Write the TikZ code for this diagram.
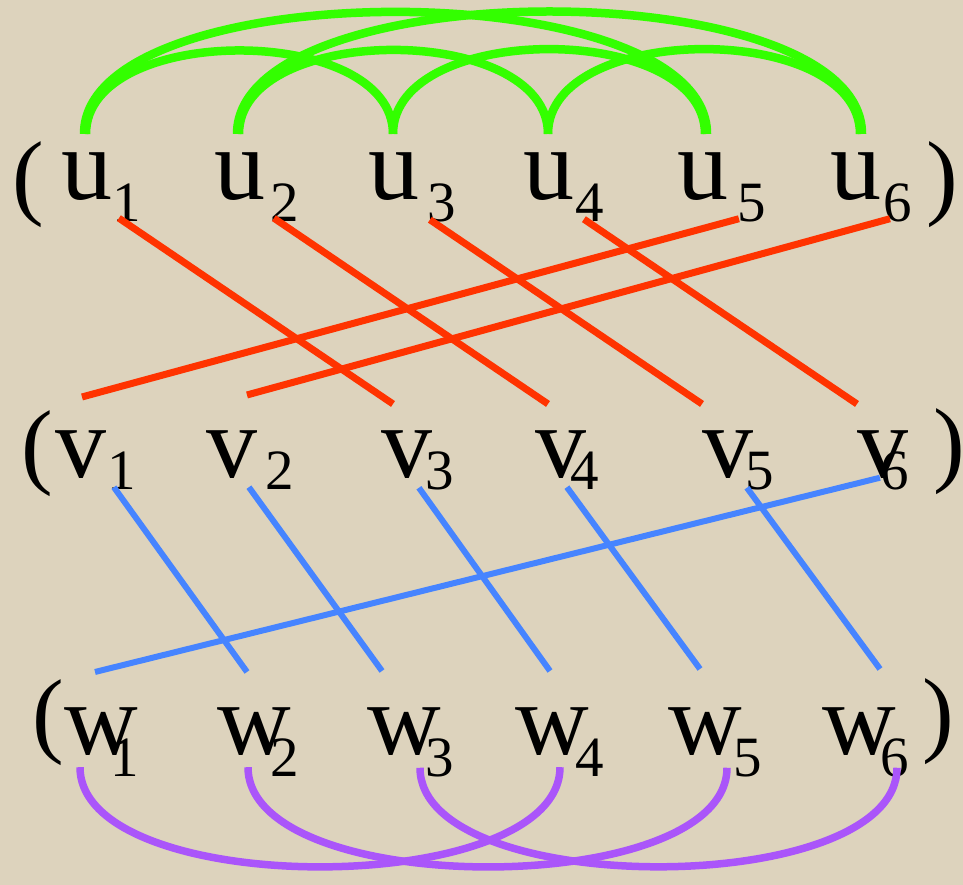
\documentclass[tikz,border=0pt]{standalone}
\usepackage{fontspec}
\setmainfont{Liberation Serif}
\usepackage{xcolor}
\definecolor{paper}{RGB}{221, 211, 189}
\definecolor{arcgreen}{RGB}{51, 255, 0}
\definecolor{linered}{RGB}{255, 51, 0}
\definecolor{lineblue}{RGB}{70, 132, 255}
\definecolor{arcpurple}{RGB}{170, 85, 250}
\newcommand{\ix}[2]{\raisebox{-#1pt}{\fontsize{57}{57}\selectfont #2}}

\begin{document}
\begin{tikzpicture}[
  x=1pt, y=1pt,
  letter/.style={inner sep=0pt, anchor=base west, font=\fontsize{102}{102}\selectfont},
  paren/.style={inner sep=0pt, font=\fontsize{95}{95}\selectfont},
  uarc/.style={draw=arcgreen, line width=8.5pt},
  uvline/.style={draw=linered, line width=7pt},
  vwline/.style={draw=lineblue, line width=6pt},
  warc/.style={draw=arcpurple, line width=7.5pt},
]
  % Background
  \useasboundingbox (0,0) rectangle (963,885);
  \fill[paper] (0,0) rectangle (963,885);

  % Row u
  \node[paren] (lpu) at (28,700) {(};
  \node[letter] (u1) at (61,685) {u\kern0pt\ix{22}{1}};
  \node[letter] (u2) at (214,685) {u\kern5pt\ix{22}{2}};
  \node[letter] (u3) at (368,685) {u\kern8pt\ix{22}{3}};
  \node[letter] (u4) at (523,685) {u\kern1pt\ix{22}{4}};
  \node[letter] (u5) at (677,685) {u\kern9pt\ix{22}{5}};
  \node[letter] (u6) at (830,685) {u\kern2pt\ix{22}{6}};
  \node[paren] (rpu) at (942,700) {)};

  % Row v
  \node[paren] (lpv) at (37,431) {(};
  \node[letter] (v1) at (55,407) {v\kern1pt\ix{12}{1}};
  \node[letter] (v2) at (206,407) {v\kern8pt\ix{12}{2}};
  \node[letter] (v3) at (381,407) {v\kern-7pt\ix{12}{3}};
  \node[letter] (v4) at (535,407) {v\kern-16pt\ix{12}{4}};
  \node[letter] (v5) at (702,407) {v\kern-8pt\ix{12}{5}};
  \node[letter] (v6) at (857,407) {v\kern-28pt\ix{12}{6}};
  \node[paren] (rpv) at (949,433) {)};

  % Row w
  \node[paren] (lpw) at (48,162) {(};
  \node[letter] (w1) at (64,130) {w\kern-27pt\ix{22}{1}};
  \node[letter] (w2) at (217,130) {w\kern-20pt\ix{22}{2}};
  \node[letter] (w3) at (367,130) {w\kern-15pt\ix{22}{3}};
  \node[letter] (w4) at (515,130) {w\kern-13pt\ix{22}{4}};
  \node[letter] (w5) at (668,130) {w\kern-8pt\ix{22}{5}};
  \node[letter] (w6) at (822,130) {w\kern-15pt\ix{22}{6}};
  \node[paren] (rpw) at (938,163) {)};

  % u -- u arcs
  \draw[uarc] ([shift={(25,19)}]u1.north west) to[out=90, in=90, looseness=0.93] ([shift={(25,19)}]u3.north west);
  \draw[uarc] ([shift={(25,19)}]u2.north west) to[out=90, in=90, looseness=0.93] ([shift={(25,19)}]u4.north west);
  \draw[uarc] ([shift={(25,19)}]u3.north west) to[out=90, in=90, looseness=0.93] ([shift={(28,19)}]u5.north west);
  \draw[uarc] ([shift={(25,19)}]u4.north west) to[out=90, in=90, looseness=0.93] ([shift={(30,19)}]u6.north west);
  \draw[uarc] ([shift={(23,19)}]u1.north west) to[out=90, in=90, looseness=0.67] ([shift={(30,19)}]u5.north west);
  \draw[uarc] ([shift={(23,19)}]u2.north west) to[out=90, in=90, looseness=0.67] ([shift={(32,19)}]u6.north west);

  % u -- v lines
  \draw[uvline] ([shift={(-22,4)}]u1.south east) -- ([shift={(12,27)}]v3.north west);
  \draw[uvline] ([shift={(-25,4)}]u2.south east) -- ([shift={(13,27)}]v4.north west);
  \draw[uvline] ([shift={(-26,3)}]u3.south east) -- ([shift={(0,27)}]v5.north west);
  \draw[uvline] ([shift={(-20,3)}]u4.south east) -- ([shift={(0,27)}]v6.north west);
  \draw[uvline] ([shift={(-27,4)}]u5.south east) -- ([shift={(27,34)}]v1.north west);
  \draw[uvline] ([shift={(-22,4)}]u6.south east) -- ([shift={(41,36)}]v2.north west);

  % v -- w lines
  \draw[vwline] ([shift={(-22,3)}]v1.south east) -- ([shift={(30,36)}]w2.north west);
  \draw[vwline] ([shift={(-45,3)}]v2.south east) -- ([shift={(15,37)}]w3.north west);
  \draw[vwline] ([shift={(-35,3)}]v3.south east) -- ([shift={(35,37)}]w4.north west);
  \draw[vwline] ([shift={(-32,3)}]v4.south east) -- ([shift={(32,39)}]w5.north west);
  \draw[vwline] ([shift={(-27,3)}]v5.south east) -- ([shift={(58,39)}]w6.north west);
  \draw[vwline] ([shift={(-29,13)}]v6.south east) -- ([shift={(31,36)}]w1.north west);

  % w -- w arcs
  \draw[warc] ([shift={(16,10)}]w1.south west) to[out=-90, in=-90, looseness=0.71] ([shift={(45,10)}]w4.south west);
  \draw[warc] ([shift={(31,10)}]w2.south west) to[out=-90, in=-90, looseness=0.71] ([shift={(59,10)}]w5.south west);
  \draw[warc] ([shift={(53,10)}]w3.south west) to[out=-90, in=-90, looseness=0.71] ([shift={(75,10)}]w6.south west);
\end{tikzpicture}
\end{document}
